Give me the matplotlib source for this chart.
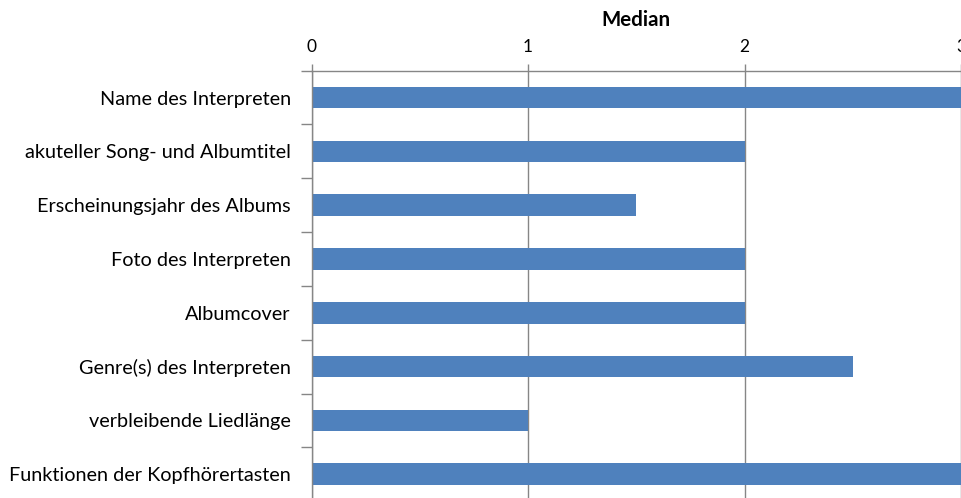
import matplotlib
matplotlib.use("Agg")
import matplotlib.pyplot as plt
from matplotlib.ticker import FixedLocator

categories = [
    "Name des Interpreten",
    "akuteller Song- und Albumtitel",
    "Erscheinungsjahr des Albums",
    "Foto des Interpreten",
    "Albumcover",
    "Genre(s) des Interpreten",
    "verbleibende Liedlänge",
    "Funktionen der Kopfhörertasten",
]
median_values = [3, 2, 1.5, 2, 2, 2.5, 1, 3]
x_ticks = [0, 1, 2, 3]

plt.rcParams["font.family"] = ["Lato", "DejaVu Sans"]

W, H = 961, 498
fig = plt.figure(figsize=(W / 100, H / 100), dpi=100)

# plot area in pixel units
left_px, top_px = 311.5, 70.7
unit_px = 216.5
cat_px = 53.8
x_max = 3.0
width_px = unit_px * x_max
height_px = cat_px * len(categories)
ax = fig.add_axes([left_px / W, 1 - (top_px + height_px) / H,
                   width_px / W, height_px / H])

grid_col = "#868686"
bar_col = "#4F81BD"

y = list(range(len(categories)))
ax.barh(y, median_values, height=0.4, color=bar_col, zorder=3)

ax.set_xlim(0, x_max)
ax.set_ylim(len(categories) - 0.5, -0.5)

ax.xaxis.set_ticks_position("top")
ax.xaxis.set_label_position("top")
ax.set_xticks(x_ticks)
ax.set_xticklabels([str(t) for t in x_ticks])
ax.tick_params(axis="x", direction="out", length=5, width=1, color=grid_col,
               labelsize=12.5, pad=6, labelcolor="#000000")

# category labels at centers, tick marks at category boundaries
ax.set_yticks(y)
ax.set_yticklabels(categories)
ax.tick_params(axis="y", which="major", length=0, pad=15, labelsize=14.3,
               labelcolor="#000000")
ax.yaxis.set_minor_locator(FixedLocator([i - 0.5 for i in range(len(categories) + 1)]))
ax.tick_params(axis="y", which="minor", direction="out", length=8, width=1,
               color=grid_col)

ax.grid(axis="x", color=grid_col, linewidth=1, zorder=1)
ax.set_axisbelow(True)

for side in ["right", "bottom"]:
    ax.spines[side].set_visible(False)
for side in ["top", "left"]:
    ax.spines[side].set_color(grid_col)
    ax.spines[side].set_linewidth(1)
    ax.spines[side].set_zorder(4)

fig.text((left_px + width_px / 2) / W, 1 - 20 / H, "Median",
         ha="center", va="center", fontsize=14.8, fontweight="bold")

fig.savefig("out.png", dpi=100)
